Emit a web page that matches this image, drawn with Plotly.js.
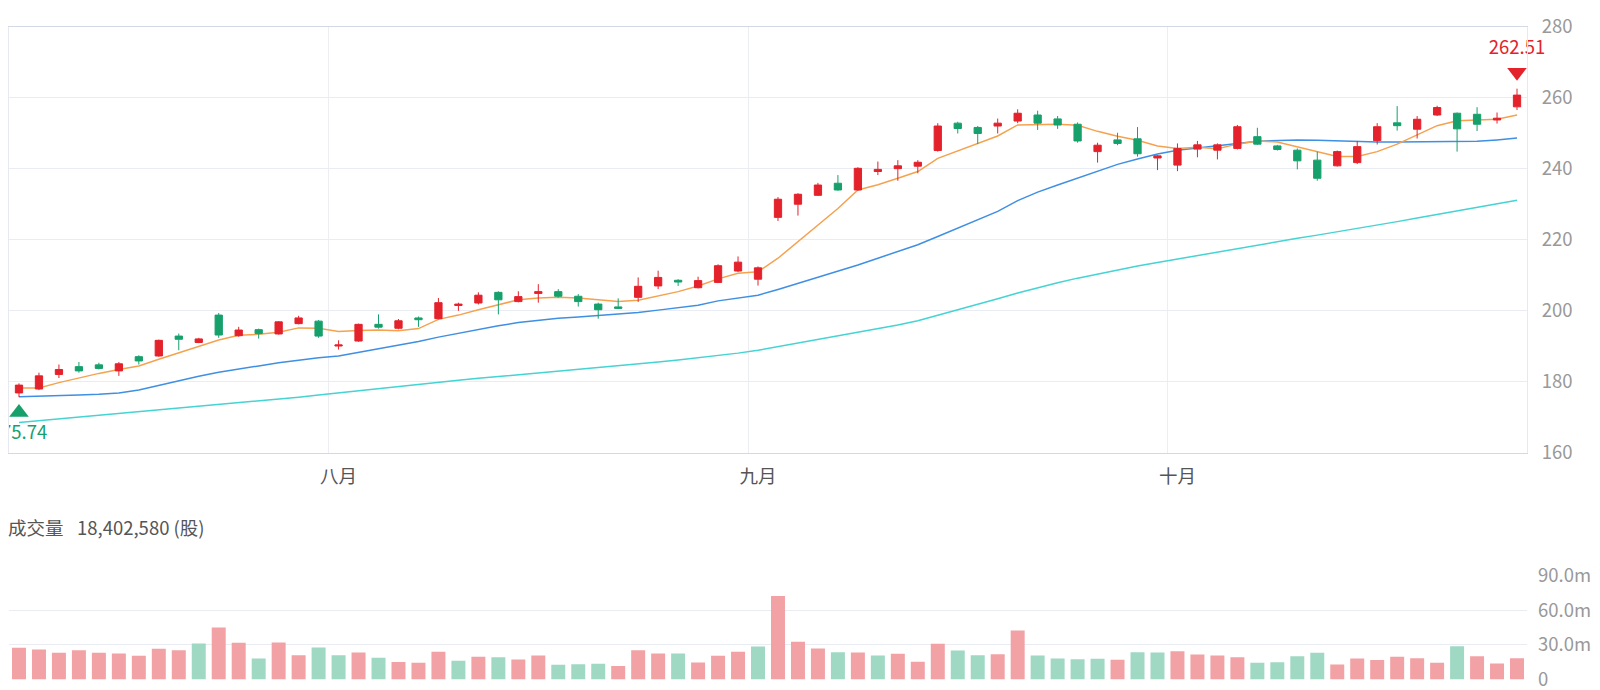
<!DOCTYPE html>
<html>
<head>
<meta charset="utf-8">
<script src="https://cdn.plot.ly/plotly-3.0.1.min.js"></script>
<style>
html,body{margin:0;padding:0;background:#ffffff;}
#chart{width:1600px;height:690px;}
</style>
</head>
<body>
<div id="chart"></div>
<script>
// ---------- data ----------
const monthStartIdx = [16, 37, 58];
const monthLabels = ['八月', '九月', '十月'];

const opens = [176.9,178.0,182.1,184.3,184.8,183.1,187.1,187.3,192.9,191.1,
198.8,193.0,194.7,193.5,196.4,197.1,190.1,191.5,196.2,195.1,
198.0,197.8,201.5,202.2,205.2,202.6,204.9,205.4,204.1,201.9,
201.1,203.8,207.0,208.6,206.5,208.0,211.2,208.9,226.3,230.0,
232.5,235.9,234.0,239.2,240.0,240.7,245.1,252.8,251.6,252.0,
253.4,255.1,254.0,252.5,244.8,248.1,248.4,243.0,241.0,245.5,
245.2,245.7,249.0,246.4,245.2,242.4,240.8,241.7,247.9,252.9,
251.1,255.1,255.6,255.3,253.7,257.4];

const highs = [179.6,182.6,184.9,185.6,185.4,185.6,187.5,191.9,193.6,192.4,
199.4,195.5,195.0,197.1,198.6,197.4,191.7,196.4,199.0,197.7,
198.4,203.6,202.3,205.2,205.5,205.5,207.5,206.1,204.7,202.3,
203.5,209.4,211.3,208.9,209.6,213.1,215.3,212.5,232.0,233.1,
236.0,238.2,240.4,242.0,242.4,242.4,252.8,253.2,252.0,254.1,
256.7,256.3,254.8,253.0,247.3,250.1,251.7,243.8,247.1,247.8,
247.1,252.3,251.5,246.7,245.7,244.8,245.1,247.8,252.8,257.6,
254.8,257.7,255.8,257.3,255.8,262.51];

const lows = [175.74,177.7,181.1,182.6,183.5,181.7,184.9,187.1,188.9,190.9,
192.4,192.7,192.2,193.3,196.2,192.4,189.1,191.3,195.0,194.8,
195.5,197.6,200.0,201.8,199.0,202.4,202.3,203.7,201.2,197.8,
200.5,202.5,206.1,207.0,206.3,207.8,210.9,207.1,225.3,226.8,
232.3,233.8,233.8,238.2,236.6,238.7,244.8,249.9,246.9,249.9,
252.8,250.9,251.2,247.3,241.7,246.6,243.4,239.6,239.3,243.2,
242.6,245.4,246.7,245.1,239.8,236.6,240.6,241.3,246.8,250.7,
248.5,254.8,244.8,250.6,252.7,256.5];

const closes = [179.1,181.7,183.5,183.1,183.8,185.1,185.9,191.7,192.0,192.1,
193.2,194.6,193.6,196.9,198.0,192.9,190.4,196.2,195.4,197.2,
197.5,202.3,201.9,204.4,203.1,204.0,205.4,204.1,202.6,200.3,
200.7,206.9,209.4,208.1,208.5,212.7,213.7,212.1,231.4,232.8,
235.4,234.0,240.1,239.8,240.8,241.8,252.0,251.3,249.9,252.8,
255.6,252.8,252.3,247.8,246.6,247.1,244.2,243.6,245.7,246.7,
246.7,251.8,246.9,245.4,242.2,237.3,244.8,246.2,251.8,252.1,
253.9,257.2,251.2,252.5,254.2,260.7];

const ma5 = [178.3,178.3,179.8,181.2,182.4,183.5,184.5,186.4,188.2,190.0,
191.8,193.1,193.4,194.0,195.2,195.1,194.2,194.5,194.6,194.4,
195.0,197.6,198.8,200.3,201.7,203.1,203.6,203.8,203.6,203.0,
202.6,203.0,204.1,205.4,207.0,209.0,210.6,211.0,214.8,219.5,
224.1,228.8,234.0,235.5,237.3,239.2,242.9,245.0,247.1,249.2,
252.3,252.3,252.5,252.2,250.5,249.1,248.0,246.4,245.7,246.0,
245.6,246.9,247.8,247.5,246.2,244.8,243.4,243.4,244.8,246.9,
249.5,252.1,253.5,253.7,253.9,255.1];

const ma20 = [175.8,175.9,176.1,176.3,176.5,176.9,177.7,179.0,180.4,181.6,
182.7,183.7,184.5,185.4,186.2,186.8,187.3,188.3,189.3,190.3,
191.4,192.6,193.7,194.8,195.8,196.7,197.4,197.9,198.3,198.7,
199.0,199.5,200.2,200.8,201.6,202.8,203.7,204.4,206.0,207.7,
209.4,211.0,212.9,214.8,216.7,218.6,220.9,223.2,225.5,228.0,
231.0,233.4,235.4,237.4,239.4,241.2,242.7,244.1,245.2,245.9,
246.6,247.1,247.7,248.0,248.1,248.0,247.8,247.6,247.5,247.5,
247.5,247.5,247.5,247.7,248.1,248.6];

const ma60 = [168.6,169.1,169.6,170.1,170.6,171.1,171.6,172.1,172.6,173.1,
173.6,174.1,174.6,175.2,175.7,176.3,176.9,177.5,178.2,178.9,
179.4,180.0,180.5,181.0,181.5,182.0,182.5,183.0,183.5,184.0,
184.5,185.1,185.6,186.2,186.8,187.4,188.1,188.9,189.9,190.9,
191.9,192.9,193.9,194.9,196.0,197.2,198.7,200.2,201.8,203.4,
205.0,206.5,207.9,209.2,210.4,211.5,212.6,213.6,214.6,215.6,
216.6,217.6,218.6,219.5,220.4,221.3,222.2,223.1,224.1,225.1,
226.1,227.1,228.1,229.1,230.1,231.1];

const volumes = [27500000,26000000,23100000,25400000,23100000,22500000,20500000,26600000,25400000,31200000,
45100000,31800000,18200000,32100000,21100000,27700000,21100000,23400000,18800000,15100000,
14500000,24000000,16200000,19700000,19400000,17300000,20800000,12700000,13300000,13600000,
11600000,25400000,22500000,22500000,14700000,20500000,24000000,28600000,72500000,32700000,
26900000,23700000,23400000,20800000,22300000,15300000,30900000,25100000,21100000,22000000,
42500000,20800000,18200000,17600000,17900000,17100000,23700000,23400000,24600000,21700000,
20800000,19400000,14500000,15000000,20200000,23100000,13000000,18200000,16800000,19700000,
18500000,14500000,28900000,20200000,13900000,18402580];

// 1 = up day (red bar), 0 = down day (green bar), as coloured in the reference
const volUp = [1,1,1,1,1,1,1,1,1,0, 1,1,0,1,1,0,0,1,0,1,
1,1,0,1,0,1,1,0,0,0, 1,1,1,0,1,1,1,0,1,1,
1,0,1,0,1,1,1,0,0,1, 1,0,0,0,0,1,0,0,1,1,
1,1,0,0,0,0,1,1,1,1, 1,1,0,1,1,1];

const volTickVals = [0, 30000000, 60000000, 90000000];
const volTickText = ['0', '30.0m', '60.0m', '90.0m'];
const priceTickVals = [160, 180, 200, 220, 240, 260, 280];

// ---------- styling ----------
const RED = '#e4222c', GREEN = '#16a06c';
const VOL_RED = '#f2a1a5', VOL_GREEN = '#9fd8c3';
const GRID = '#e9ecf2';
const FONT = '"Noto Sans CJK SC", "Noto Sans", sans-serif';
const FS = 18.5;
const W = 1600, H = 690;

const idx = opens.map((_, i) => i);
const n = idx.length;

let iMax = 0, iMin = 0;
highs.forEach((v, i) => { if (v > highs[iMax]) iMax = i; });
lows.forEach((v, i) => { if (v < lows[iMin]) iMin = i; });

const xDom = [9 / W, 1527 / W];
const priceDom = [1 - 453 / H, 1 - 26.5 / H];
const volDom = [1 - 679.5 / H, 1 - 575.7 / H];
const xRange = [-0.5, n - 0.5];

const traces = [
  {type: 'scatter', mode: 'lines', x: idx, y: ma60, xaxis: 'x', yaxis: 'y',
   line: {color: '#45d3d3', width: 1.5}, hoverinfo: 'skip'},
  {type: 'scatter', mode: 'lines', x: idx, y: ma20, xaxis: 'x', yaxis: 'y',
   line: {color: '#3f8fe2', width: 1.5}, hoverinfo: 'skip'},
  {type: 'scatter', mode: 'lines', x: idx, y: ma5, xaxis: 'x', yaxis: 'y',
   line: {color: '#f5a24f', width: 1.5}, hoverinfo: 'skip'},
  {type: 'candlestick', x: idx, open: opens, high: highs, low: lows, close: closes,
   xaxis: 'x3', yaxis: 'y3', whiskerwidth: 0,
   increasing: {line: {color: RED, width: 1}, fillcolor: RED},
   decreasing: {line: {color: GREEN, width: 1}, fillcolor: GREEN},
   hoverinfo: 'skip'},
  // max / min arrows
  {type: 'scatter', mode: 'markers', x: [iMax], y: [highs[iMax]], xaxis: 'x3', yaxis: 'y3',
   marker: {symbol: 'triangle-up', angle: 180, standoff: 16.5, size: 17, color: RED, line: {width: 0}},
   cliponaxis: false, hoverinfo: 'skip'},
  {type: 'scatter', mode: 'markers', x: [iMin], y: [lows[iMin]], xaxis: 'x3', yaxis: 'y3',
   marker: {symbol: 'triangle-up', angle: 0, standoff: 15.5, size: 17, color: GREEN, line: {width: 0}},
   cliponaxis: false, hoverinfo: 'skip'},
  // max / min labels
  {type: 'scatter', mode: 'markers+text', x: [iMax], y: [highs[iMax]], xaxis: 'x3', yaxis: 'y3',
   text: [highs[iMax].toFixed(2)], textposition: 'top center',
   textfont: {color: RED, size: FS, family: FONT},
   marker: {size: 46, color: 'rgba(0,0,0,0)'}, cliponaxis: false, hoverinfo: 'skip'},
  {type: 'scatter', mode: 'markers+text', x: [iMin], y: [lows[iMin]], xaxis: 'x3', yaxis: 'y3',
   text: [lows[iMin].toFixed(2)], textposition: 'bottom center',
   textfont: {color: GREEN, size: FS, family: FONT},
   marker: {size: 44, color: 'rgba(0,0,0,0)'}, cliponaxis: true, hoverinfo: 'skip'},
  // volume
  {type: 'bar', x: idx, y: volumes, xaxis: 'x2', yaxis: 'y2',
   marker: {color: volUp.map(u => u ? VOL_RED : VOL_GREEN), line: {width: 0}},
   hoverinfo: 'skip'}
];

const layout = {
  width: W, height: H,
  margin: {l: 0, r: 0, t: 0, b: 0},
  paper_bgcolor: '#ffffff', plot_bgcolor: '#ffffff',
  showlegend: false,
  font: {family: FONT, size: FS, color: '#999999'},
  boxgap: 0.48,
  bargap: 0.3,
  xaxis: {
    domain: xDom, anchor: 'y', range: xRange, fixedrange: true,
    tickmode: 'array', tickvals: monthStartIdx.map(i => i - 0.5), ticktext: monthLabels,
    ticklabelshift: 10, ticklabelstandoff: 7, ticks: '',
    tickfont: {color: '#555555', size: FS, family: FONT},
    showgrid: true, gridcolor: '#eceef4', gridwidth: 1,
    showline: true, linecolor: '#d3d8e2', linewidth: 1, mirror: true,
    zeroline: false, rangeslider: {visible: false}
  },
  yaxis: {
    domain: priceDom, anchor: 'x', range: [160, 280], fixedrange: true,
    side: 'right', tickmode: 'array', tickvals: priceTickVals,
    ticks: '', ticklabelstandoff: 10, ticklabeloverflow: 'allow',
    showgrid: true, gridcolor: GRID, gridwidth: 1,
    showline: true, linecolor: '#e6e9ef', linewidth: 1, mirror: true,
    zeroline: false
  },
  xaxis3: {
    overlaying: 'x', anchor: 'y3', range: xRange, fixedrange: true,
    visible: false, showgrid: false, zeroline: false, rangeslider: {visible: false}
  },
  yaxis3: {
    overlaying: 'y', anchor: 'x3', range: [160, 280], fixedrange: true,
    visible: false, showgrid: false, zeroline: false
  },
  xaxis2: {
    domain: xDom, anchor: 'y2', range: xRange, fixedrange: true,
    showticklabels: false, ticks: '', showgrid: false, zeroline: false, showline: false
  },
  yaxis2: {
    domain: volDom, anchor: 'x2', range: [0, 90000000], fixedrange: true,
    side: 'right', tickmode: 'array', tickvals: volTickVals, ticktext: volTickText,
    ticks: '', ticklabelstandoff: 10, ticklabeloverflow: 'allow',
    showgrid: true, gridcolor: GRID, gridwidth: 1,
    showline: false, zeroline: false
  },
  annotations: [
    {xref: 'paper', yref: 'paper', x: 6 / W, y: 1 - 527 / H, xanchor: 'left', yanchor: 'middle',
     text: '成交量', showarrow: false, font: {family: FONT, size: FS, color: '#555555'}},
    {xref: 'paper', yref: 'paper', x: 75 / W, y: 1 - 527 / H, xanchor: 'left', yanchor: 'middle',
     text: volumes[n - 1].toLocaleString('en-US') + ' (股)', showarrow: false,
     font: {family: FONT, size: FS, color: '#555555'}}
  ]
};

Plotly.newPlot('chart', traces, layout, {displayModeBar: false, staticPlot: true});
</script>
</body>
</html>
